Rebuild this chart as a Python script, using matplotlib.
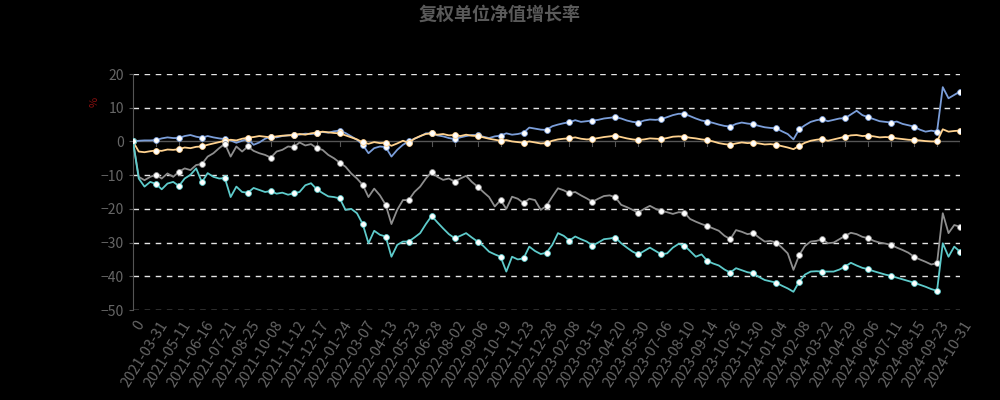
import matplotlib
matplotlib.use("Agg")
import matplotlib.pyplot as plt
import numpy as np

plt.rcParams["font.family"] = ["Noto Sans CJK SC", "DejaVu Sans"]

# etiquetas del eje x (una cada 4 puntos)
etiquetas = [
    "0", "2021-03-31", "2021-05-11", "2021-06-16", "2021-07-21", "2021-08-25",
    "2021-10-08", "2021-11-12", "2021-12-17", "2022-01-24", "2022-03-07",
    "2022-04-13", "2022-05-23", "2022-06-28", "2022-08-02", "2022-09-06",
    "2022-10-19", "2022-11-23", "2022-12-28", "2023-02-08", "2023-03-15",
    "2023-04-20", "2023-05-30", "2023-07-06", "2023-08-10", "2023-09-14",
    "2023-10-26", "2023-11-30", "2024-01-04", "2024-02-08", "2024-03-22",
    "2024-04-29", "2024-06-06", "2024-07-11", "2024-08-15", "2024-09-23",
    "2024-10-31",
]
PASO = 4

serie_azul = [
    0, 0.2, 0.3, 0.3, 0.4, 0.9, 1.2, 1.0, 1.0, 1.6, 1.9, 1.4,
    1.1, 1.6, 1.2, 0.9, 0.7, 0.3, -0.4, 0.2, 0.8, -1.0, -0.3, 0.8,
    1.4, 1.2, 1.6, 1.8, 1.9, 2.0, 2.3, 2.2, 2.4, 2.8, 2.6, 3.0,
    3.2, 2.5, 1.5, 0.5, -1.0, -3.5, -2.0, -1.5, -1.7, -4.5, -2.5, -1.0,
    0, 0.8, 1.5, 2.4, 2.4, 1.8, 1.5, 1.0, 0.7, 1.2, 1.6, 1.9,
    1.9, 1.4, 1.0, 1.5, 1.7, 2.4, 2.0, 2.2, 2.6, 4.1, 3.8, 3.5,
    3.4, 4.5, 5.0, 5.4, 5.7, 6.3, 5.8, 6.0, 6.2, 6.4, 6.8, 7.0,
    7.2, 6.8, 6.2, 5.8, 5.6, 6.2, 6.5, 6.4, 6.6, 7.2, 7.8, 8.2,
    8.2, 7.5, 6.8, 6.2, 5.9, 5.5, 5.0, 4.6, 4.4, 5.2, 5.6, 5.3,
    5.1, 4.6, 4.2, 4.0, 3.9, 3.0, 2.2, 0.6, 3.6, 4.8, 5.8, 6.3,
    6.6, 6.0, 6.4, 6.8, 6.9, 8.0, 9.1, 7.8, 7.2, 6.6, 6.0, 5.8,
    5.6, 5.9, 5.2, 4.8, 4.4, 3.5, 2.9, 3.2, 2.9, 16.1, 12.8, 13.8,
    14.8,
]

serie_amarilla = [
    0, -3.0, -3.2, -2.9, -2.7, -2.8, -2.4, -2.5, -2.3, -1.8, -2.0, -1.6,
    -1.5, -1.0, -0.6, -0.2, 0.2, 0.5, 0.3, 0.8, 1.1, 1.3, 1.6, 1.4,
    1.2, 1.5, 1.7, 1.8, 1.9, 2.2, 2.0, 2.4, 2.6, 2.9, 2.7, 2.5,
    2.4, 1.8, 1.2, 0.6, -0.3, -0.7, -0.2, -0.5, -0.4, -1.3, -0.6, 0.2,
    -0.4, 0.8, 1.6, 2.2, 2.4, 2.0, 2.2, 1.8, 1.9, 1.6, 2.0, 1.7,
    1.6, 1.2, 0.8, 0.5, 0.2, 0.4, 0.0, -0.2, -0.4, 0.0, -0.3, -0.6,
    -0.5, 0.2, 0.6, 0.8, 0.9, 1.2, 0.8, 0.6, 0.7, 1.0, 1.3, 1.5,
    1.7, 1.3, 0.9, 0.6, 0.4, 0.6, 0.9, 0.8, 0.7, 1.0, 1.4, 1.5,
    1.4, 1.1, 0.9, 0.6, 0.4, 0.0, -0.5, -0.8, -1.0, -0.6, -0.3, -0.5,
    -0.4, -0.6, -0.9, -0.8, -1.0, -1.4, -1.8, -2.3, -1.3, -0.4, 0.2, 0.5,
    0.7, 0.2, 0.6, 1.0, 1.4, 1.8, 1.9, 1.6, 1.7, 1.5, 1.2, 1.3,
    1.2, 0.9, 0.7, 0.5, 0.4, 0.3, 0.1, 0.0, 0.0, 3.6, 2.9, 3.1,
    3.2,
]

serie_gris = [
    0, -10.5, -11.5, -10.5, -9.9, -11.0, -9.5, -10.5, -9.0, -8.0, -8.5, -7.0,
    -6.7, -4.5, -3.5, -2.0, -0.7, -4.5, -1.5, -3.0, -1.5, -2.8, -3.5, -4.0,
    -4.8, -3.0, -2.5, -1.5, -1.7, -0.3, -1.2, -0.8, -2.0, -2.5, -4.0, -5.0,
    -6.3, -7.5, -9.5, -11.0, -12.9, -16.5, -14.0, -16.0, -18.8, -24.5, -20.3, -17.4,
    -17.4, -15.0, -13.4, -11.0, -9.0, -10.5, -11.4, -11.0, -11.9, -11.0, -10.2, -12.0,
    -13.4, -15.0, -16.5, -19.3, -17.4, -20.0, -16.4, -17.0, -18.3, -17.0, -17.4, -20.3,
    -19.1, -16.4, -13.9, -14.5, -15.4, -15.0, -16.0, -16.9, -17.9, -17.0, -16.2, -16.0,
    -16.6, -18.8, -19.5, -20.3, -21.1, -20.0, -19.1, -20.0, -20.6, -21.0, -21.5, -21.0,
    -21.1, -23.0, -23.8, -24.5, -25.1, -25.8, -26.5, -28.0, -29.0, -26.3, -26.8, -27.5,
    -27.2, -28.5, -29.7, -29.5, -30.0, -31.5, -33.2, -38.1, -33.7, -31.0, -29.7, -29.5,
    -29.0, -30.2, -30.0, -29.0, -28.0, -27.1, -27.5, -28.3, -28.7, -29.5, -30.0, -30.3,
    -30.7, -31.5, -32.2, -33.0, -34.2, -35.0, -35.7, -36.5, -36.1, -21.3, -27.2, -24.8,
    -25.3,
]

serie_turquesa = [
    0, -11.0, -13.4, -12.0, -12.6, -14.2, -12.5, -12.0, -13.2, -11.0, -9.9, -8.0,
    -12.1, -9.4, -10.5, -11.0, -10.9, -16.5, -13.4, -15.0, -15.2, -13.8, -14.4, -15.0,
    -14.7, -15.5, -15.2, -15.8, -15.4, -15.0, -13.0, -12.4, -14.2, -15.3, -16.3, -16.5,
    -16.9, -20.3, -20.0, -21.3, -24.5, -30.2, -26.5, -27.7, -28.2, -34.2, -30.7, -29.7,
    -29.7, -28.5, -27.2, -24.5, -22.1, -24.0, -25.8, -27.5, -28.7, -28.0, -27.2, -28.5,
    -29.7, -31.0, -32.7, -33.5, -34.2, -38.6, -34.2, -35.0, -34.7, -31.2, -32.5, -33.4,
    -33.0, -30.7, -27.2, -28.0, -29.4, -28.2, -29.0, -29.7, -30.9, -30.0, -29.0, -28.8,
    -28.5, -30.2, -31.5, -32.7, -33.5, -32.5, -31.5, -32.5, -33.5, -33.2, -31.5, -30.4,
    -30.9, -32.5, -34.2, -33.5, -35.4, -36.2, -36.8, -38.0, -38.9, -37.6, -38.2, -38.8,
    -39.1, -40.2, -41.1, -41.5, -41.9, -42.8, -43.6, -44.6, -41.6, -39.5, -38.6, -38.5,
    -38.6, -38.6, -38.6, -38.0, -37.1, -36.0, -36.8, -37.5, -37.9, -38.5, -39.0, -39.5,
    -39.9, -40.4, -40.9, -41.4, -41.9, -42.5, -43.1, -43.8, -44.3, -30.2, -34.2, -31.2,
    -32.7,
]

COLOR_AZUL = "#7b9ed9"
COLOR_AMARILLO = "#ffd28f"
COLOR_GRIS = "#8e8e8e"
COLOR_TURQUESA = "#5ecbcb"
COLOR_TEXTO = "#666666"

figura = plt.figure(figsize=(10, 4), dpi=100, facecolor="black")
ejes = figura.add_axes([0.133, 0.225, 0.827, 0.59])
ejes.set_facecolor("black")

x = np.arange(len(serie_azul))

# rejilla
for v in [20, 10, -10, -20, -30, -40, -50]:
    ejes.axhline(v, color="white", linestyle=(0, (4, 4)), linewidth=1, alpha=0.9, zorder=1)
ejes.axhline(0, color="#555555", linewidth=1, zorder=1)

for serie, color in [(serie_azul, COLOR_AZUL), (serie_amarilla, COLOR_AMARILLO),
                     (serie_gris, COLOR_GRIS), (serie_turquesa, COLOR_TURQUESA)]:
    ejes.plot(x, serie, color=color, linewidth=1.3, zorder=3,
              marker="o", markevery=PASO, markersize=4.2,
              markerfacecolor="white", markeredgecolor=color, markeredgewidth=0.6)

ejes.set_xlim(0, len(serie_azul) - 1)
ejes.set_ylim(-50, 20)
ejes.set_yticks([20, 10, 0, -10, -20, -30, -40, -50])

for lado in ["top", "right", "bottom"]:
    ejes.spines[lado].set_visible(False)
ejes.spines["left"].set_color("#555555")

ejes.tick_params(axis="y", colors=COLOR_TEXTO, labelsize=10, length=3, color="#555555")

posiciones = np.arange(0, len(serie_azul), PASO)
ejes.set_xticks(posiciones)
ejes.set_xticklabels([])
ejes.tick_params(axis="x", length=0)

# marcas pequenas sobre la linea del cero
for p in posiciones:
    ejes.plot([p, p], [0, -1.4], color="#555555", linewidth=0.8, zorder=2)

for p, texto in zip(posiciones, etiquetas):
    ejes.annotate(texto, xy=(p, -50), xycoords="data", xytext=(2, -6),
                  textcoords="offset points", rotation=58, ha="right", va="top",
                  rotation_mode="anchor", color=COLOR_TEXTO, fontsize=10.5)

figura.text(0.5, 0.965, "复权单位净值增长率", ha="center", va="center",
            fontsize=13, fontweight="bold", color="#5a5a5a")
figura.text(0.095, 0.745, "%", ha="center", va="center", rotation=90,
            fontsize=8, color="#8b1010")

figura.savefig("out.png", dpi=100, facecolor="black")
plt.close(figura)
